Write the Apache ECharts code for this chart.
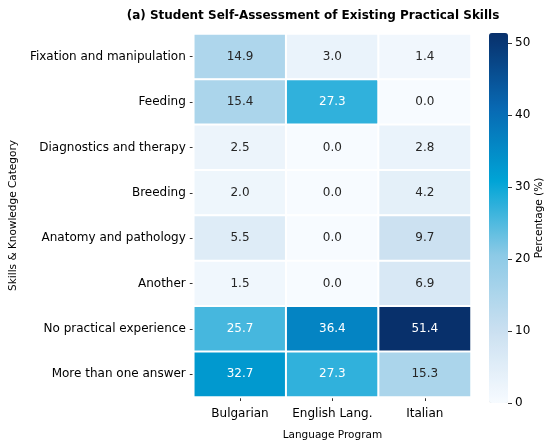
<!DOCTYPE html>
<html>
<head>
    <meta http-equiv="Content-Type" content="text/html; charset=utf-8"/>
    <title>ECharts</title>
    <script src="https://cdn.jsdelivr.net/npm/echarts@6/dist/echarts.min.js"></script>
    <style>
        html, body { margin: 0; padding: 0; background: #fff; }
    </style>
</head>
<body>
<div id="main" style="width: 550px;height:446px;"></div>
<script type="text/javascript">
    // 数据
    var skills = ['Fixation and manipulation', 'Feeding', 'Diagnostics and therapy', 'Breeding',
        'Anatomy and pathology', 'Another', 'No practical experience', 'More than one answer'];
    var programs = ['Bulgarian', 'English Lang.', 'Italian'];
    var bulgarian = [14.9, 15.4, 2.5, 2.0, 5.5, 1.5, 25.7, 32.7];
    var english = [3.0, 27.3, 0.0, 0.0, 0.0, 0.0, 36.4, 27.3];
    var italian = [1.4, 0.0, 2.8, 4.2, 9.7, 6.9, 51.4, 15.3];
    var colorTicks = [0, 10, 20, 30, 40, 50];
    var vMax = 51.4;

    var font = 'DejaVu Sans';
    var cols = [bulgarian, english, italian];
    var cells = [];
    cols.forEach(function (col, x) {
        col.forEach(function (v, y) {
            cells.push({
                value: [x, y, v],
                label: {color: v > 20 ? '#ffffff' : '#262626'}
            });
        });
    });

    var myChart = echarts.init(document.getElementById('main'));
    myChart.setOption({
        animation: false,
        backgroundColor: '#fff',
        title: {
            text: '(a) Student Self-Assessment of Existing Practical Skills',
            left: 308,
            top: 5,
            textAlign: 'center',
            textStyle: {fontFamily: font, fontSize: 12, fontWeight: 'bold', color: '#000'}
        },
        grid: [
            {left: 187, top: 34, width: 284, height: 368},
            {left: 489, top: 33, width: 19, height: 370}
        ],
        xAxis: [
            {
                type: 'category',
                gridIndex: 0,
                data: programs,
                name: 'Language Program',
                nameLocation: 'middle',
                nameGap: 33,
                nameTextStyle: {fontFamily: font, fontSize: 10.5, color: '#000'},
                axisLine: {show: false},
                axisTick: {show: true, alignWithLabel: true, length: 4, lineStyle: {color: '#000', width: 0.8}},
                axisLabel: {interval: 0, fontFamily: font, fontSize: 12, color: '#000', margin: 11},
                splitLine: {show: false}
            },
            {
                // 色条用的占位轴
                type: 'category',
                gridIndex: 1,
                data: [''],
                show: false
            }
        ],
        yAxis: [
            {
                type: 'category',
                gridIndex: 0,
                data: skills,
                inverse: true,
                name: 'Skills & Knowledge Category',
                nameLocation: 'middle',
                nameGap: 168,
                nameTextStyle: {fontFamily: font, fontSize: 10.5, color: '#000'},
                axisLine: {show: false},
                axisTick: {show: true, alignWithLabel: true, length: 4, lineStyle: {color: '#000', width: 0.8}},
                axisLabel: {interval: 0, fontFamily: font, fontSize: 12, color: '#000', margin: 8},
                splitLine: {show: false}
            },
            {
                type: 'value',
                gridIndex: 1,
                position: 'right',
                min: 0,
                max: vMax,
                name: 'Percentage (%)',
                nameLocation: 'middle',
                nameGap: 25,
                nameRotate: 90,
                nameTextStyle: {fontFamily: font, fontSize: 10.5, color: '#000'},
                axisLine: {show: false},
                axisTick: {show: true, customValues: colorTicks, length: 4, lineStyle: {color: '#000', width: 0.8}},
                axisLabel: {customValues: colorTicks, fontFamily: font, fontSize: 12, color: '#000', margin: 7},
                splitLine: {show: false}
            }
        ],
        visualMap: {
            type: 'continuous',
            seriesIndex: 0,
            dimension: 2,
            min: 0,
            max: vMax,
            calculable: false,
            hoverLink: false,
            realtime: false,
            orient: 'vertical',
            left: 489,
            top: 33,
            padding: 0,
            itemWidth: 19,
            itemHeight: 370,
            text: ['', ''],
            showLabel: false,
            inRange: {
                color: ['#f7fbff', '#c9dff0', '#8ccae6', '#00a4d6', '#0868b2', '#08306b']
            }
        },
        series: [
            {
                name: 'Percentage',
                type: 'heatmap',
                xAxisIndex: 0,
                yAxisIndex: 0,
                data: cells,
                label: {
                    show: true,
                    fontFamily: font,
                    fontSize: 12,
                    formatter: function (p) {
                        return p.value[2].toFixed(1);
                    }
                },
                itemStyle: {borderColor: '#ffffff', borderWidth: 2},
                emphasis: {disabled: true}
            }
        ]
    });
</script>
</body>
</html>
